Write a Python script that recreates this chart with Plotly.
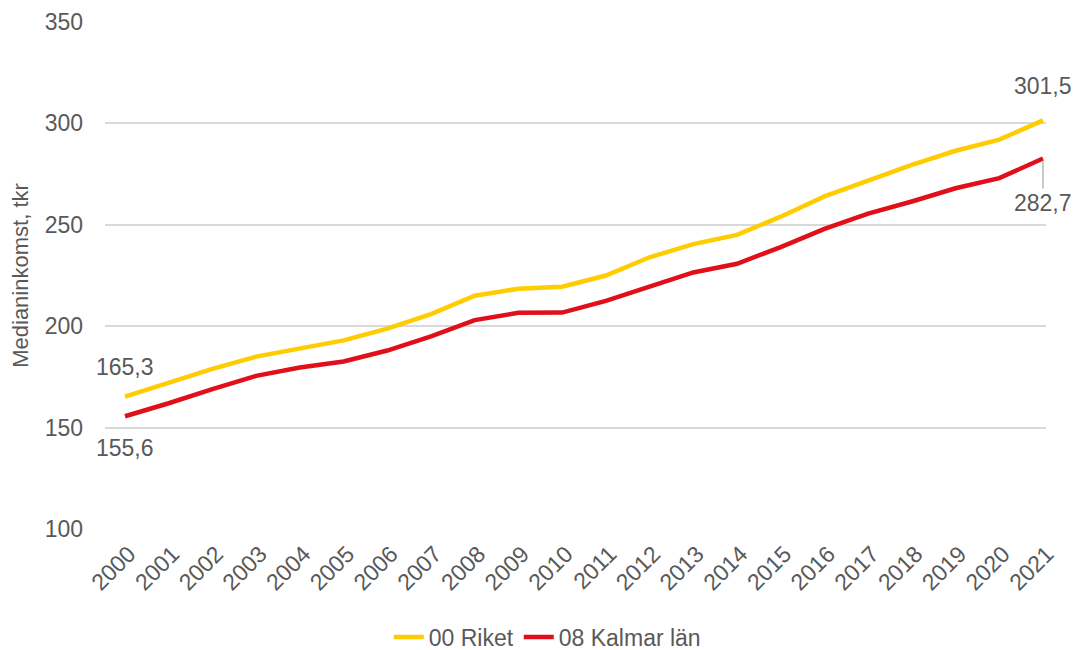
import plotly.graph_objects as go

years = [str(y) for y in range(2000, 2022)]
riket = [165.3, 172.0, 179.0, 185.0, 189.2, 193.0, 198.8, 206.0, 215.0, 218.5, 219.5, 225.0,
         234.0, 240.5, 245.0, 254.0, 264.0, 272.0, 279.5, 286.5, 292.0, 301.5]
kalmar = [155.6, 162.0, 169.0, 175.5, 179.6, 182.6, 188.0, 195.0, 203.0, 206.6, 206.7, 212.5,
          219.5, 226.5, 230.8, 239.0, 248.0, 255.5, 261.5, 268.0, 273.0, 282.7]
names = ["00 Riket", "08 Kalmar län"]
colors = ["#FFCC00", "#E00F19"]

FONT = "Liberation Sans, Arial, sans-serif"
GRAY = "#595959"

fig = go.Figure()
for name, vals, col in zip(names, [riket, kalmar], colors):
    fig.add_trace(go.Scatter(x=list(range(len(years))), y=vals, mode="lines", name=name,
                             line=dict(color=col, width=4.5)))

def fmt(v):
    return f"{v:.1f}".replace(".", ",")

fs = 23
fig.add_annotation(x=0, y=riket[0], text=fmt(riket[0]), showarrow=False, yshift=30,
                   xanchor="center", font=dict(size=fs, color=GRAY, family=FONT))
fig.add_annotation(x=0, y=kalmar[0], text=fmt(kalmar[0]), showarrow=False, yshift=-32,
                   xanchor="center", font=dict(size=fs, color=GRAY, family=FONT))
fig.add_annotation(x=len(years) - 1, y=riket[-1], text=fmt(riket[-1]), showarrow=False, yshift=34,
                   xanchor="center", font=dict(size=fs, color=GRAY, family=FONT))
fig.add_annotation(x=len(years) - 1, y=kalmar[-1], text=fmt(kalmar[-1]), showarrow=True,
                   ax=0, ay=30, arrowhead=0, arrowwidth=1.2, arrowcolor="#A6A6A6",
                   standoff=2, yanchor="top",
                   font=dict(size=fs, color=GRAY, family=FONT))

fig.update_layout(
    width=1076, height=650,
    margin=dict(l=105, r=30, t=22, b=121, autoexpand=False),
    paper_bgcolor="white", plot_bgcolor="white",
    font=dict(family=FONT, color=GRAY, size=fs),
    showlegend=True,
    legend=dict(orientation="h", x=0.47, xanchor="center", y=-0.213, yanchor="middle",
                font=dict(size=23, color=GRAY, family=FONT), tracegroupgap=0),
    xaxis=dict(range=[-0.4575, 21.069], tickmode="array", automargin=False,
               tickvals=list(range(len(years))), ticktext=years,
               tickangle=-45, showgrid=False, zeroline=False, showline=False,
               ticklabelstandoff=6, ticklabelshift=4,
               tickfont=dict(size=23, color=GRAY, family=FONT), ticks=""),
    yaxis=dict(range=[100, 350], dtick=50, showgrid=True, gridcolor="#D9D9D9", gridwidth=1.5,
               zeroline=False, showline=False, ticks="", automargin=False,
               ticklabelstandoff=21,
               tickfont=dict(size=fs, color=GRAY, family=FONT),
               title=dict(text="Medianinkomst, tkr", font=dict(size=22, color=GRAY, family=FONT),
                          standoff=9)),
)

fig.write_html("out.html", config={"displayModeBar": False},
               post_script="document.body.style.margin='0';")
